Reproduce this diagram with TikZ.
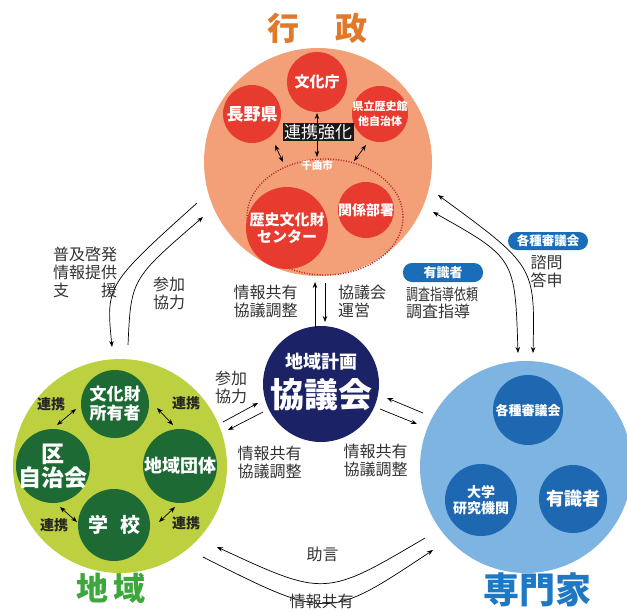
\documentclass[tikz,border=0pt]{standalone}
\usepackage{fontspec}
\setmainfont{Noto Sans CJK JP}
\usetikzlibrary{arrows.meta}
\definecolor{orangeC}{HTML}{F3A079}
\definecolor{redC}{HTML}{E63B2E}
\definecolor{dotC}{HTML}{B8232A}
\definecolor{greenC}{HTML}{BDD03F}
\definecolor{dgreenC}{HTML}{1D6A35}
\definecolor{blueC}{HTML}{7DB4E2}
\definecolor{dblueC}{HTML}{1E67B1}
\definecolor{navyC}{HTML}{1B2266}
\definecolor{pillC}{HTML}{1A6DB8}
\definecolor{titO}{HTML}{E2782A}
\definecolor{titG}{HTML}{3CA73A}
\definecolor{titB}{HTML}{1F78C4}
\definecolor{txt}{HTML}{333333}
\newcommand{\myfs}[2]{\fontsize{#1}{#2}\selectfont}
\begin{document}
\begin{tikzpicture}[x=1pt,y=-1pt,
  disc/.style={circle,inner sep=0pt,outer sep=0pt},
  lbl/.style={text=txt,align=center,inner sep=0pt,font=\myfs{16}{18}},
  wt/.style={text=white,align=center,inner sep=0pt},
  tip/.style={-{Stealth[length=6pt,width=4.5pt]},line width=0.7pt},
  dtip/.style={{Stealth[length=6pt,width=4.5pt]}-{Stealth[length=6pt,width=4.5pt]},line width=0.7pt},
  pill/.style={fill=pillC,rounded corners=9pt,minimum width=80pt,minimum height=19pt,inner sep=0pt,text=white,font=\bfseries\myfs{13}{13}},
  title/.style={inner sep=0pt,font=\bfseries\myfs{32}{32}}]
\useasboundingbox (0,0) rectangle (627,611);
\fill[white] (0,0) rectangle (627,611);

% big circles
\node[disc,fill=orangeC,minimum size=228pt] (gyosei) at (318,162) {};
\node[disc,fill=greenC,minimum size=214pt] (chiiki) at (120,466) {};
\node[disc,fill=blueC,minimum size=212pt] (senmon) at (526,467) {};
\node[disc,fill=navyC,minimum size=116pt] (kyogi) at (321,384) {};

% titles
\node[title,text=titO] (tGyosei) at (317.5,28) {行\hspace{37pt}政};
\node[title,text=titG] (tChiiki) at (111,588) {地\hspace{6pt}域};
\node[title,text=titB,font=\bfseries\myfs{36}{36}] (tSenmon) at (537,590) {専門家};

% ---------- gyosei inside ----------
\draw[dotC,line width=1.4pt,dash pattern=on 1pt off 1.6pt] (325,217) ellipse [x radius=78, y radius=58];
\node[disc,fill=redC,minimum size=60pt] (bunkacho) at (317,82) {};
\node[disc,fill=redC,minimum size=58pt] (nagano) at (252,114) {};
\node[disc,fill=redC,minimum size=56pt] (kenritsu) at (380,114) {};
\node[disc,fill=redC,minimum size=82pt] (center) at (287,228) {};
\node[disc,fill=redC,minimum size=56pt] (kankei) at (366,210) {};

\coordinate (vTop) at (317,113);
\coordinate (vBot) at (317,157);
\draw[dtip] (vTop) -- (vBot);
\coordinate (dl1) at (275,145); \coordinate (dl2) at (283,162);
\draw[dtip] (dl1) -- (dl2);
\coordinate (dr1) at (366,145); \coordinate (dr2) at (354,161);
\draw[dtip] (dr1) -- (dr2);

\node[wt,font=\bfseries\myfs{15}{15}] (tBunkacho) at (bunkacho) {文化庁};
\node[wt,font=\bfseries\myfs{17}{17}] (tNagano) at (nagano) {長野県};
\node[wt,font=\bfseries\myfs{11}{14.5}] (tKenritsu) at (kenritsu) {県立歴史館\\他自治体};
\node[wt,font=\bfseries\myfs{15}{17}] (tCenter) at (center) {歴史文化財\\センター};
\node[wt,font=\bfseries\myfs{14}{14}] (tKankei) at (kankei) {関係部署};
\node[fill=black!90,text=white,inner sep=1.5pt,font=\myfs{17}{17}] (renkei) at (318,132) {連携強化};
\node[wt,font=\bfseries\myfs{10.5}{10.5}] (chikuma) at (317,165) {千曲市};

% ---------- chiiki inside ----------
\node[disc,fill=dgreenC,minimum size=68pt] (shoyu) at (115,404) {};
\node[disc,fill=dgreenC,minimum size=74pt] (ku) at (53,466) {};
\node[disc,fill=dgreenC,minimum size=74pt] (dantai) at (180,466) {};
\node[disc,fill=dgreenC,minimum size=72pt] (gakko) at (114,525) {};
\node[wt,font=\bfseries\myfs{17}{19}] (tShoyu) at (shoyu) {文化財\\所有者};
\node[wt,font=\bfseries\myfs{23}{24}] (tKu) at (ku) {区\\自治会};
\node[wt,font=\bfseries\myfs{18}{18}] (tDantai) at (dantai) {地域団体};
\node[wt,font=\bfseries\myfs{20}{20}] (tGakko) at (gakko) {学\hspace{12pt}校};

\tikzset{rk/.style={inner sep=0pt,text=black!85,font=\bfseries\myfs{14}{14}}}
\node[rk] (rk1) at (51,404) {連携};
\node[rk] (rk2) at (186,403) {連携};
\node[rk] (rk3) at (54,525) {連携};
\node[rk] (rk4) at (186,523) {連携};
\coordinate (g1a) at (57,425); \coordinate (g1b) at (76,409);
\coordinate (g2a) at (157,408); \coordinate (g2b) at (173,425);
\coordinate (g3a) at (60,507); \coordinate (g3b) at (77,522);
\coordinate (g4a) at (175,507); \coordinate (g4b) at (159,522);
\draw[dtip] (g1a) -- (g1b);
\draw[dtip] (g2a) -- (g2b);
\draw[dtip] (g3a) -- (g3b);
\draw[dtip] (g4a) -- (g4b);

% ---------- senmon inside ----------
\node[disc,fill=dblueC,minimum size=70pt] (shingi) at (528,410) {};
\node[disc,fill=dblueC,minimum size=72pt] (daigaku) at (481,500) {};
\node[disc,fill=dblueC,minimum size=68pt] (yushiki) at (573,499) {};
\node[wt,font=\bfseries\myfs{13}{13}] (tShingi) at (shingi) {各種審議会};
\node[wt,font=\bfseries\myfs{14}{16}] (tDaigaku) at (daigaku) {大学\\研究機関};
\node[wt,font=\bfseries\myfs{18}{18}] (tYushiki) at (yushiki) {有識者};

% ---------- kyogikai ----------
\node[wt,font=\bfseries\myfs{18}{18}] (tChiikiKeikaku) at (321,362) {地域計画};
\node[wt,font=\bfseries\myfs{34}{34}] (tKyogi) at (321,395) {協議会};

% ---------- connectors ----------
% gyosei <-> kyogikai
\coordinate (k1a) at (315,328); \coordinate (k1b) at (315,282);
\coordinate (k2a) at (325,283); \coordinate (k2b) at (325,322);
\draw[tip] (k1a) -- (k1b);
\draw[tip] (k2a) -- (k2b);
% chiiki <-> kyogikai
\coordinate (c1a) at (223,422); \coordinate (c1b) at (258,403);
\coordinate (c2a) at (263,412); \coordinate (c2b) at (228,430);
\draw[tip] (c1a) -- (c1b);
\draw[tip] (c2a) -- (c2b);
% senmon <-> kyogikai
\coordinate (s1a) at (423,413); \coordinate (s1b) at (387,398);
\coordinate (s2a) at (380,409); \coordinate (s2b) at (417,424);
\draw[tip] (s1a) -- (s1b);
\draw[tip] (s2a) -- (s2b);
% gyosei <-> chiiki
\coordinate (L1a) at (197,203); \coordinate (L1b) at (112,347);
\coordinate (L2a) at (128,345); \coordinate (L2b) at (203,217);
\draw[tip] (L1a) .. controls (106,285) .. (L1b);
\draw[tip] (L2a) .. controls (131,279) .. (L2b);
% gyosei <-> senmon
\coordinate (R1a) at (438,195); \coordinate (R1b) at (533,353);
\coordinate (R2a) at (433,212); \coordinate (R2b) at (518,353);
\draw[dtip] (R1a) .. controls (535,266) .. (R1b);
\draw[dtip] (R2a) .. controls (515,258) .. (R2b);
% chiiki <-> senmon
\coordinate (B1a) at (425,538); \coordinate (B1b) at (217,547);
\coordinate (B2a) at (203,557); \coordinate (B2b) at (433,550);
\draw[tip] (B1a) .. controls (325,597) .. (B1b);
\draw[tip] (B2a) .. controls (328,620) .. (B2b);

% ---------- labels ----------
\node[lbl,align=left,text width=64pt] (fukyu) at (85,272.5) {普及啓発\\情報提供\\支\hspace{32pt}援};
\node[lbl] (sanka1) at (169,293.5) {参加\\協力};
\node[lbl] (joho1) at (265.5,301.5) {情報共有\\協議調整};
\node[lbl,align=left,anchor=west] (unei) at (338,301.5) {協議会\\運営};
\node[lbl] (sanka2) at (231,387) {参加\\協力};
\node[lbl] (joho2) at (269.5,462) {情報共有\\協議調整};
\node[lbl] (joho3) at (375.5,460) {情報共有\\協議調整};
\node[lbl] (jogen) at (322.5,554.5) {助言};
\node[lbl] (joho4) at (321.5,601.5) {情報共有};

\node[pill] (pYushiki) at (443,272.5) {有識者};
\node[pill,minimum height=18pt,font=\bfseries\myfs{12.5}{12.5}] (pShingi) at (548,241) {各種審議会};
\node[lbl,anchor=west] (irai) at (406,294.5) {\scalebox{0.75}[1]{調査指導依頼}};
\node[lbl,anchor=west] (shido) at (406,311.5) {調査指導};
\node[lbl] (shimon) at (546.5,271.5) {諮問\\答申};
\end{tikzpicture}
\end{document}
